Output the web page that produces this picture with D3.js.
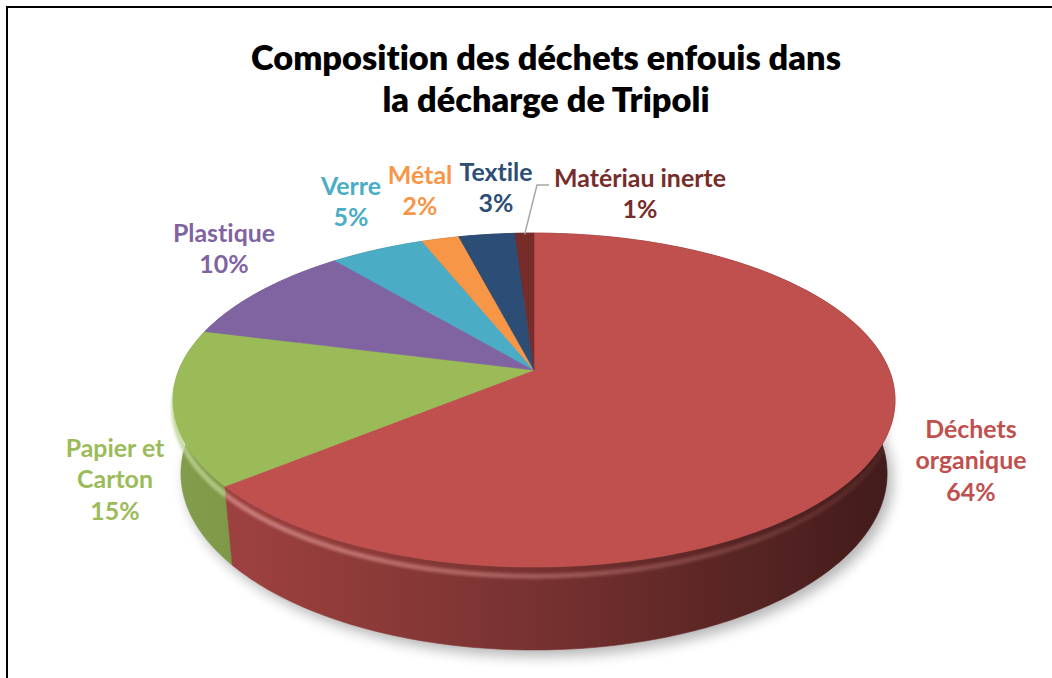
<!DOCTYPE html>
<html><head><meta charset="utf-8">
<script src="https://cdn.jsdelivr.net/npm/d3@7"></script>
<style>body{margin:0;background:#fff} svg{display:block} text{font-variant-ligatures:none;font-feature-settings:"liga" 0,"clig" 0}</style>
</head><body><svg id="c" width="1052" height="678"></svg>
<script>
// ---- data ----
const categories = ["Déchets organique","Papier et Carton","Plastique","Verre","Métal","Textile","Matériau inerte"];
const values = [64, 15, 10, 5, 2, 3, 1];
const labelLines = [["Déchets","organique"],["Papier et","Carton"],["Plastique"],["Verre"],["Métal"],["Textile"],["Matériau inerte"]];
const colors = ["#C0504D","#9BBB59","#8064A2","#4BACC6","#F79646","#2C4D75","#772C2A"];
const titleLines = ["Composition des déchets enfouis dans","la décharge de Tripoli"];

// ---- layout ----
const labelLayout = [[971,438],[115,457],[224,242],[351,195],[420,184],[496,181],[640,187]];
const lineGap = 31.5;
const W = 1052, Hh = 678;
const cx = 534, cy = 370, F = 1754, D = 4.94, sinA = 0.455, cosA = Math.sqrt(1 - sinA*sinA), depth = 0.234;
const FONT = "Lato, 'Open Sans', sans-serif";

const svg = d3.select("#c");
const defs = svg.append("defs");

function proj(theta, r, h){
  const x = r*Math.sin(theta), z = r*Math.cos(theta);
  const Y = h*cosA + z*sinA;
  const Z = D + z*cosA - h*sinA;
  return [cx + F*x/Z, cy - F*Y/Z];
}
function arcPts(a, b, h){
  const pts = [];
  const steps = Math.max(2, Math.ceil((b-a)/(Math.PI/180)));
  for(let i=0;i<=steps;i++){ pts.push(proj(a + (b-a)*i/steps, 1, h)); }
  return pts;
}
const line = d3.line();

const pie = d3.pie().sort(null).value(d => d).startAngle(0).endAngle(2*Math.PI);
const arcs = pie(values).map((d,i) => ({...d, i, color: colors[i], name: categories[i]}));

// filters
defs.append("filter").attr("id","shadowBlur").attr("x","-20%").attr("y","-20%").attr("width","140%").attr("height","140%")
  .append("feGaussianBlur").attr("stdDeviation", 7);
defs.append("filter").attr("id","rimBlur").attr("x","-10%").attr("y","-10%").attr("width","120%").attr("height","120%")
  .append("feGaussianBlur").attr("stdDeviation", 1.6);

// side gradients
arcs.forEach(d => {
  const g = defs.append("linearGradient").attr("id","side"+d.i)
    .attr("gradientUnits","userSpaceOnUse").attr("x1",175).attr("x2",895).attr("y1",0).attr("y2",0);
  const c = d3.rgb(d.color);
  [[0,0.84],[0.12,0.8],[0.5,0.62],[0.8,0.45],[1,0.34]].forEach(([o,k]) => {
    g.append("stop").attr("offset",o).attr("stop-color", d3.rgb(c.r*k, c.g*k, c.b*k).formatHex());
  });
});
// rim mask
const mg = defs.append("linearGradient").attr("id","rimFade").attr("gradientUnits","userSpaceOnUse")
  .attr("x1",180).attr("x2",900).attr("y1",0).attr("y2",0);
mg.append("stop").attr("offset",0).attr("stop-color","#fff");
mg.append("stop").attr("offset",0.45).attr("stop-color","#999");
mg.append("stop").attr("offset",1).attr("stop-color","#111");
defs.append("mask").attr("id","rimMask").append("rect").attr("x",0).attr("y",0).attr("width",W).attr("height",Hh).attr("fill","url(#rimFade)");

// shadow
const bottomOutline = arcPts(0, 2*Math.PI, -depth);
svg.append("path").attr("d", line(bottomOutline) + "Z")
  .attr("transform","translate(5,6)")
  .attr("fill","#000").attr("opacity",0.3).attr("filter","url(#shadowBlur)");

// walls (back to front)
const walls = arcs.map(d => {
  const top = arcPts(d.startAngle, d.endAngle, 0);
  const bot = arcPts(d.startAngle, d.endAngle, -depth).reverse();
  return {d, path: line(top.concat(bot)) + "Z", z: Math.cos((d.startAngle+d.endAngle)/2)};
}).sort((a,b) => b.z - a.z);
svg.append("g").selectAll("path").data(walls).join("path")
  .attr("d", w => w.path)
  .attr("fill", w => `url(#side${w.d.i})`)
  .attr("stroke", w => `url(#side${w.d.i})`).attr("stroke-width",0.6);

// rim highlight on front edge
const lo = 95*Math.PI/180, hi = 268*Math.PI/180;
const rimG = svg.append("g").attr("mask","url(#rimMask)");
arcs.forEach(d => {
  const a = Math.max(d.startAngle, lo), b = Math.min(d.endAngle, hi);
  if (b <= a) return;
  const pts = arcPts(a, b, -0.025);
  rimG.append("path").attr("d", line(pts)).attr("fill","none")
    .attr("stroke", d3.interpolateRgb(d.color, "#fff")(0.35))
    .attr("stroke-width", 5).attr("opacity",0.85).attr("filter","url(#rimBlur)");
});

// top faces
svg.append("g").selectAll("path").data(arcs).join("path")
  .attr("d", d => line([proj(0,0,0)].concat(arcPts(d.startAngle, d.endAngle, 0))) + "Z")
  .attr("fill", d => d.color).attr("stroke", d => d.color).attr("stroke-width",0.6).attr("stroke-linejoin","round");

// labels (taller, slightly condensed to mimic the original face)
const LFS = 25;
const lg = svg.append("g").attr("font-family", FONT).attr("font-weight", 700).attr("text-anchor","middle").attr("font-size", LFS);
const labelSel = lg.selectAll("text").data(arcs).join("text")
  .attr("fill", d => d.color);
labelSel.each(function(d){
  const t = d3.select(this);
  const lines = labelLines[d.i].concat([Math.round(d.value) + "%"]);
  lines.forEach((s,k) => t.append("tspan").attr("x", 0).attr("y", labelLayout[d.i][1] + k*lineGap).text(s));
});
const lw = labelSel.filter(d => d.i === 6).select("tspan").node().getComputedTextLength();
const lsx = 172 / lw;
labelSel.attr("transform", d => `translate(${labelLayout[d.i][0]},0) scale(${lsx.toFixed(4)},1)`);

// leader line for the smallest slice
const last = arcs[6];
const mid = (last.startAngle + last.endAngle)/2;
const p0 = proj(mid, 0.99, 0);
svg.append("path").attr("d", line([p0, [537,185], [549,185]]))
  .attr("fill","none").attr("stroke","#A6A6A6").attr("stroke-width",1.5);

// title
const TFS = 34;
const tg = svg.append("text").attr("font-family", FONT).attr("font-weight",800).attr("fill","#000")
  .attr("text-anchor","middle").attr("font-size", TFS);
titleLines.forEach((s,k) => tg.append("tspan").attr("x", 0).attr("y", 70 + k*42).text(s));
const tw = tg.select("tspan").node().getComputedTextLength();
tg.attr("transform", `translate(546,0) scale(${(590/tw).toFixed(4)},1)`);

// frame
svg.append("path").attr("d","M7,678V7H1052").attr("fill","none").attr("stroke","#000").attr("stroke-width",2);
</script>
</body></html>
